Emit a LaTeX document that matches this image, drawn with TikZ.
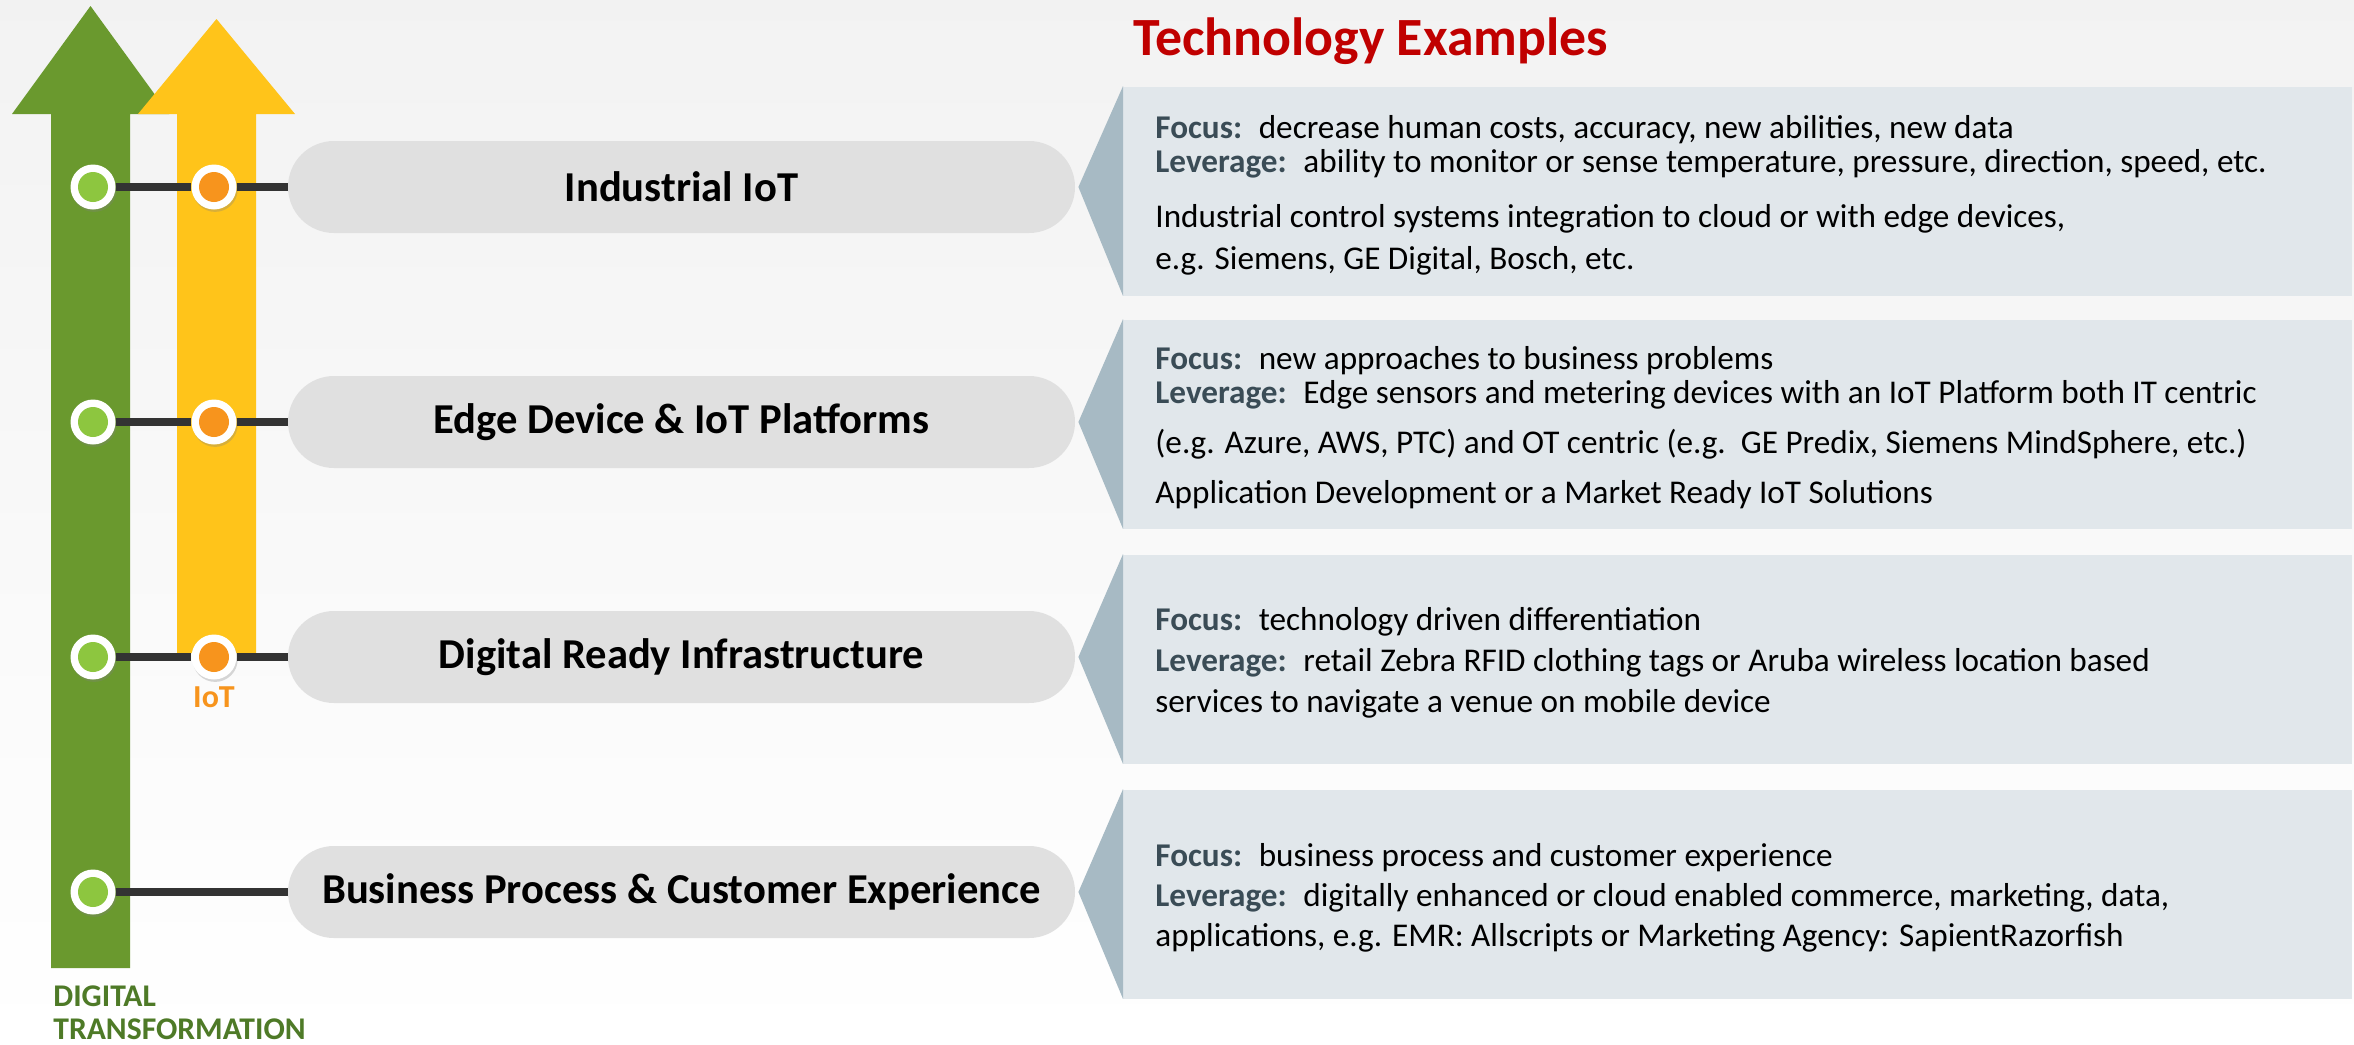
\documentclass[tikz,border=0pt]{standalone}
\usepackage{fontspec}
\setmainfont{Carlito}
\usetikzlibrary{positioning,calc,shapes.misc,shadows}

\definecolor{dtgreen}{HTML}{6A992E}
\definecolor{dtdot}{HTML}{8DC63F}
\definecolor{dtlabel}{HTML}{4E7A27}
\definecolor{iotyellow}{HTML}{FFC41A}
\definecolor{iotdot}{HTML}{F7941D}
\definecolor{joingray}{HTML}{333333}
\definecolor{pillgray}{HTML}{E0E0E0}
\definecolor{boxfill}{HTML}{E1E7EB}
\definecolor{boxtip}{HTML}{A7BAC4}
\definecolor{fieldcol}{HTML}{3A4C56}
\definecolor{titlered}{HTML}{C00000}

\newcommand{\fieldlabel}[1]{{\bfseries\color{fieldcol}#1}\hspace{0.5em}}

\tikzset{
  ring/.style={circle,fill=white,minimum size=22.5pt,inner sep=0pt,
    drop shadow={shadow xshift=0.6pt,shadow yshift=-1.2pt,opacity=0.3},
    path picture={\fill[#1] (path picture bounding box.center) circle (7.5pt);}},
  stage/.style={rounded rectangle,fill=pillgray,minimum width=393.5pt,minimum height=46pt,
    inner sep=0pt,font=\fontsize{21.3}{25}\selectfont\bfseries},
  infobox/.style={rectangle,fill=boxfill,minimum width=614.5pt,minimum height=104.5pt,
    inner sep=0pt,anchor=west},
  infotext/.style={align=left,inner sep=0pt,yshift=-2pt,font=\fontsize{16.6}{17}\selectfont},
  joint/.style={draw=joingray,line width=4pt}
}

\begin{document}
\begin{tikzpicture}[x=0.5pt,y=-0.5pt]
% background
\shade[top color=black!5,bottom color=white] (0,0) rectangle (2354,1044);
\useasboundingbox (0,0) rectangle (2354,1044);

% the two arrows
\fill[dtgreen] (51,968) -- (51,114) -- (12,114) -- (90.5,6) -- (169,114)
  -- (130,114) -- (130,968) -- cycle;
\fill[iotyellow] (177,653) -- (177,114) -- (138,114) -- (216.5,19) -- (295,114)
  -- (256,114) -- (256,653) -- cycle;

\node[anchor=base west,inner sep=0pt,text=titlered,
  font=\fontsize{26.9}{31}\selectfont\bfseries] (title) at (1133,55) {Technology Examples};

% stages
\node[stage] (st1) at (681.5,187) {Industrial IoT};
\node[stage] (st2) at (681.5,422) {Edge Device \& IoT Platforms};
\node[stage] (st3) at (681.5,657) {Digital Ready Infrastructure};
\node[stage] (st4) at (681.5,892) {Business Process \& Customer Experience};

% rings on the arrows
\foreach \i/\y in {1/187,2/422,3/657,4/892}
  \node[ring=dtdot] (dt\i) at (93,\y) {};
\foreach \i/\y in {1/187,2/422,3/657}
  \node[ring=iotdot] (io\i) at (214,\y) {};

\foreach \i in {1,2,3}{
  \draw[joint] (dt\i) -- (io\i);
  \draw[joint] (io\i) -- (st\i);
}
\draw[joint] (dt4) -- (st4);

\node[below=3pt of io3,inner sep=0pt,text=iotdot,
  font=\fontsize{16}{19}\selectfont\bfseries] (iotlab) {IoT};
\node[anchor=north west,inner sep=0pt,align=left,text=dtlabel,
  font=\fontsize{15.8}{16.5}\selectfont\bfseries] (dtlab) at (53,985) {DIGITAL\\TRANSFORMATION};

% example boxes
\foreach \i/\y in {1/191,2/424,3/659,4/894}{
  \node[infobox] (box\i) at (1123,\y) {};
  \fill[boxtip] ($(st\i.east)+(3,0)$) -- (box\i.north west) -- (box\i.south west) -- cycle;
}

\node[infotext,right=16pt of box1.west] (txt1) {%
  \fieldlabel{Focus:}decrease human costs, accuracy, new abilities, new data\\
  \fieldlabel{Leverage:}ability to monitor or sense temperature, pressure, direction, speed, etc.\\[10.5pt]
  Industrial control systems integration to cloud or with edge devices,\\[4pt]
  e.g. Siemens, GE Digital, Bosch, etc.};
\node[infotext,right=16pt of box2.west] (txt2) {%
  \fieldlabel{Focus:}new approaches to business problems\\
  \fieldlabel{Leverage:}Edge sensors and metering devices with an IoT Platform both IT centric\\[8pt]
  (e.g. Azure, AWS, PTC) and OT centric (e.g.\ \ GE Predix, Siemens MindSphere, etc.)\\[8pt]
  Application Development or a Market Ready IoT Solutions};
\node[infotext,right=16pt of box3.west] (txt3) {%
  \fieldlabel{Focus:}technology driven differentiation\\[3.5pt]
  \fieldlabel{Leverage:}retail Zebra RFID clothing tags or Aruba wireless location based\\[3.5pt]
  services to navigate a venue on mobile device};
\node[infotext,right=16pt of box4.west] (txt4) {%
  \fieldlabel{Focus:}business process and customer experience\\[3pt]
  \fieldlabel{Leverage:}digitally enhanced or cloud enabled commerce, marketing, data,\\[3pt]
  applications, e.g. EMR: Allscripts or Marketing Agency: SapientRazorfish};
\end{tikzpicture}
\end{document}
